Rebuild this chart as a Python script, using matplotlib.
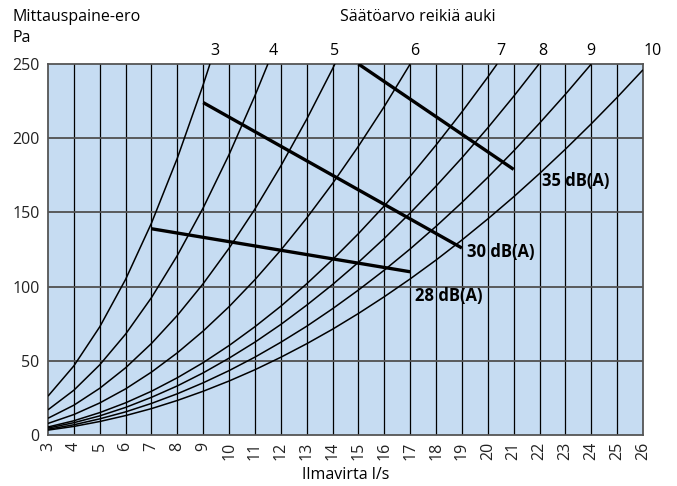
import numpy as np
import matplotlib.pyplot as plt
from matplotlib import transforms

plt.rcParams['font.family'] = ['Open Sans', 'DejaVu Sans']

# pressure difference (Pa) vs air flow (l/s), one curve per setting (holes open)
settings = [3, 4, 5, 6, 7, 8, 9, 10]
curve_x = [
    [3, 4, 5, 6, 7, 8, 9, 9.26],
    [3, 4, 5, 6, 7, 8, 9, 10, 11, 11.5],
    [3, 4, 5, 6, 7, 8, 9, 10, 11, 12, 13, 14, 14.09],
    [3, 4, 5, 6, 7, 8, 9, 10, 11, 12, 13, 14, 15, 16, 17],
    [3, 4, 5, 6, 7, 8, 9, 10, 11, 12, 13, 14, 15, 16, 17, 18, 19, 20, 20.36],
    [3, 4, 5, 6, 7, 8, 9, 10, 11, 12, 13, 14, 15, 16, 17, 18, 19, 20, 21, 21.98],
    [3, 4, 5, 6, 7, 8, 9, 10, 11, 12, 13, 14, 15, 16, 17, 18, 19, 20, 21, 22, 23, 24],
    [3, 4, 5, 6, 7, 8, 9, 10, 11, 12, 13, 14, 15, 16, 17, 18, 19, 20, 21, 22, 23, 24, 25, 26],
]
curve_y = [
    [26.2, 46.6, 72.9, 104.9, 142.8, 186.6, 236.1, 250],
    [17.0, 30.2, 47.3, 68.0, 92.6, 121.0, 153.1, 189.0, 228.7, 250],
    [11.3, 20.1, 31.5, 45.3, 61.7, 80.6, 102.0, 125.9, 152.3, 181.3, 212.8, 246.8, 250],
    [7.8, 13.8, 21.6, 31.1, 42.4, 55.4, 70.1, 86.5, 104.7, 124.6, 146.2, 169.5, 194.6, 221.4, 250],
    [5.4, 9.6, 15.1, 21.7, 29.5, 38.6, 48.8, 60.3, 73.0, 86.8, 101.9, 118.2, 135.7, 154.4, 174.3,
     195.4, 217.7, 241.2, 250],
    [4.7, 8.3, 12.9, 18.6, 25.4, 33.1, 41.9, 51.8, 62.6, 74.5, 87.5, 101.4, 116.4, 132.5, 149.6,
     167.7, 186.8, 207.0, 228.2, 250],
    [3.9, 6.9, 10.9, 15.6, 21.3, 27.8, 35.2, 43.4, 52.5, 62.5, 73.3, 85.1, 97.7, 111.1, 125.4,
     140.6, 156.7, 173.6, 191.4, 210.1, 229.6, 250],
    [3.3, 5.8, 9.1, 13.1, 17.8, 23.3, 29.5, 36.4, 44.0, 52.4, 61.5, 71.3, 81.9, 93.2, 105.2,
     117.9, 131.4, 145.6, 160.5, 176.2, 192.6, 209.7, 227.5, 246.1],
]
# where the setting numbers stand along the top
setting_label_x = [9.46, 11.7, 14.09, 17.19, 20.51, 22.13, 23.99, 26.38]

# sound level lines
db_labels = ['28 dB(A)', '30 dB(A)', '35 dB(A)']
db_x = [[7, 17], [9, 19], [15, 21]]
db_y = [[139, 110], [224, 126], [250, 179]]
db_label_x = [17.2, 19.2, 22.1]
db_label_y = [94, 123, 171]

xticks = list(range(3, 27))
yticks = [0, 50, 100, 150, 200, 250]

fig = plt.figure(figsize=(6.77, 4.86), dpi=100)
ax = fig.add_axes([0.0709, 0.1049, 0.8789, 0.7634])
ax.set_facecolor('#c6dcf2')
ax.set_xlim(3, 26)
ax.set_ylim(0, 250)

for xv in xticks[1:-1]:
    ax.axvline(xv, color='black', lw=0.9, zorder=1)
for yv in yticks[1:-1]:
    ax.axhline(yv, color='#505050', lw=1.3, zorder=1)

for xs, ys in zip(curve_x, curve_y):
    ax.plot(xs, ys, color='black', lw=1.1, zorder=3, solid_capstyle='butt')

for xs, ys in zip(db_x, db_y):
    ax.plot(xs, ys, color='black', lw=2.4, zorder=4, solid_capstyle='butt')
for lab, lx, ly in zip(db_labels, db_label_x, db_label_y):
    ax.text(lx, ly, lab, fontsize=12, fontweight='bold', ha='left', va='center', zorder=5)

trans = transforms.blended_transform_factory(ax.transData, ax.transAxes)
for s, sx in zip(settings, setting_label_x):
    ax.text(sx, 1.035, str(s), transform=trans, ha='center', va='center',
            fontsize=11.5, clip_on=False)

ax.set_xticks(xticks)
ax.set_xticklabels([str(v) for v in xticks], rotation=90)
ax.set_yticks(yticks)
ax.tick_params(length=0, labelsize=11.5, colors='#222222')
ax.tick_params(axis='x', pad=5, labelsize=11.5)
ax.tick_params(axis='y', pad=6)

for sp in ax.spines.values():
    sp.set_color('#555555')
    sp.set_linewidth(1.3)

fig.text(0.51, 0.022, 'Ilmavirta l/s', fontsize=11.5, ha='center', va='center')
fig.text(0.018, 0.965, 'Mittauspaine-ero', fontsize=11.5, ha='left', va='center')
fig.text(0.018, 0.922, 'Pa', fontsize=11.5, ha='left', va='center')
fig.text(0.617, 0.965, 'Säätöarvo reikiä auki', fontsize=11.5, ha='center', va='center')

fig.savefig('out.png', dpi=100)
